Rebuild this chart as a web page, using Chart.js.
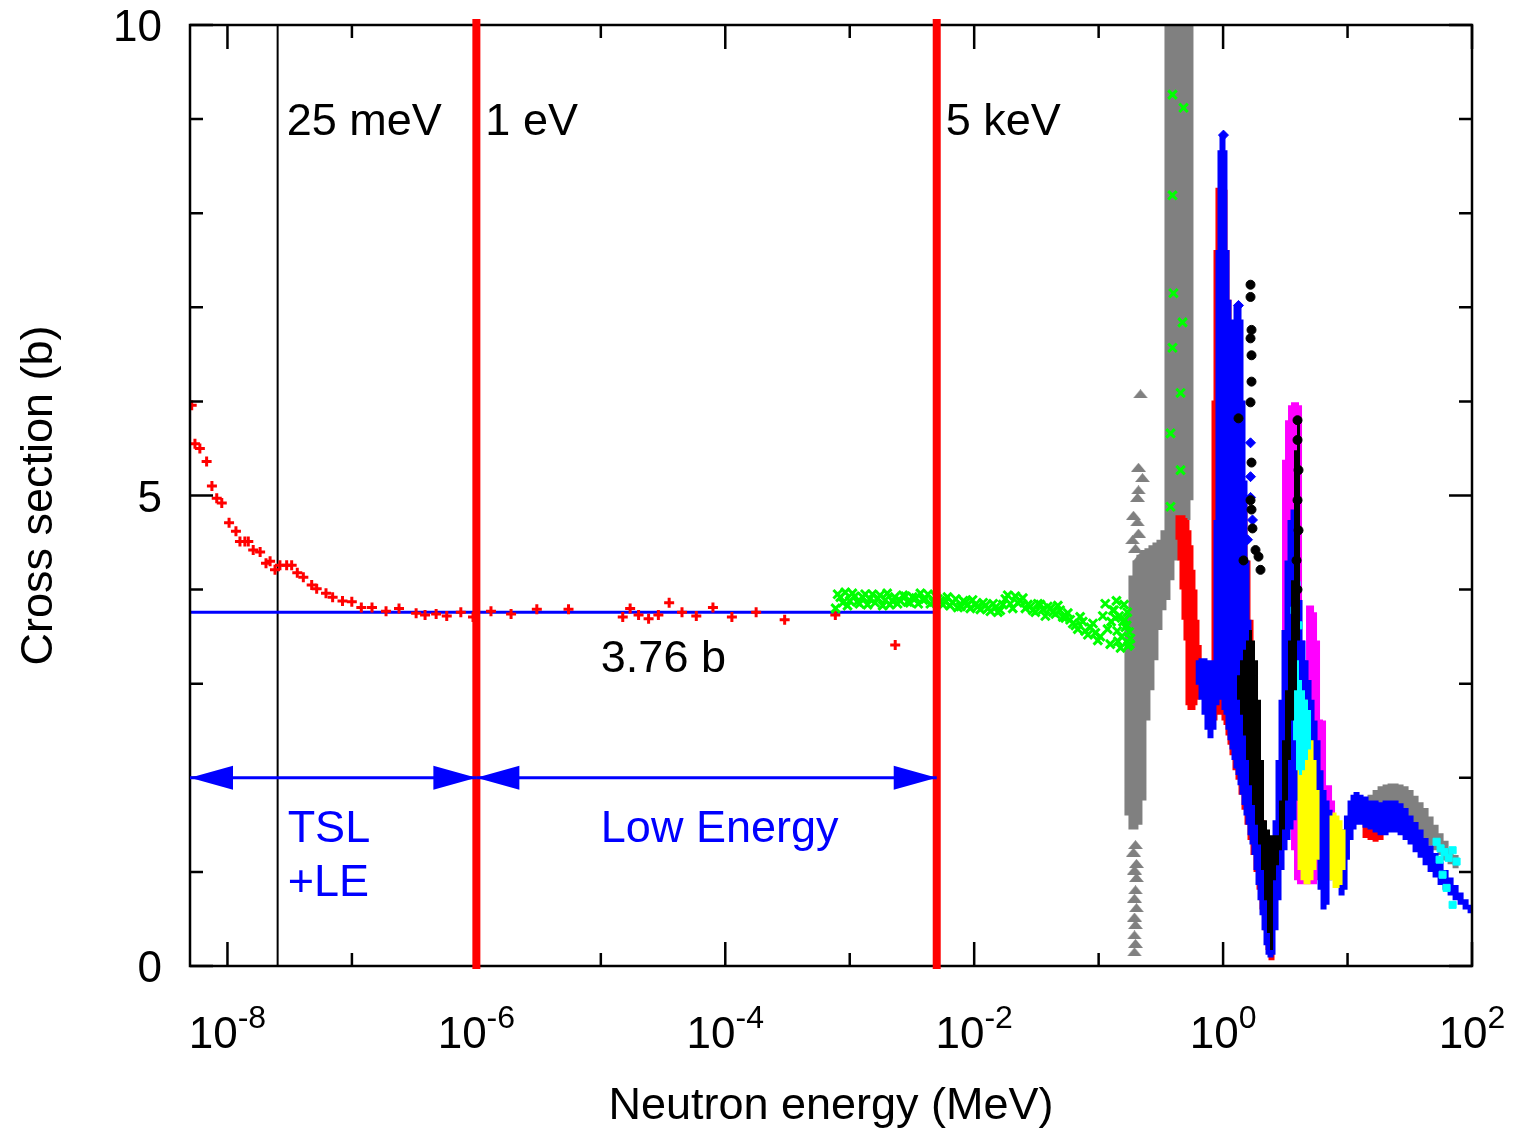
<!DOCTYPE html>
<html>
<head>
<meta charset="utf-8">
<script src="https://cdn.jsdelivr.net/npm/chart.js@4.4.0/dist/chart.umd.min.js"></script>
<style>
  html, body { margin: 0; padding: 0; background: #fff; }
  canvas { display: block; }
</style>
</head>
<body>
<canvas id="xsChart" width="1519" height="1131"></canvas>
<script>
// energies in MeV, cross sections in barn

// axis ticks
const xTickValues = [1e-8, 1e-6, 1e-4, 1e-2, 1, 100];
const xTickExponents = ['-8', '-6', '-4', '-2', '0', '2'];
const xMinorTicks = [1e-7, 1e-5, 1e-3, 1e-1, 10];
const yTickLabels = [0, 5, 10];
const yMinorTicks = [1, 2, 3, 4, 6, 7, 8, 9];

// boundaries drawn as vertical lines
const markerE = [2.53e-8, 1e-6, 5e-3];
const markerText = ['25 meV', '1 eV', '5 keV'];

// thermal / low energy data (red +)
const lowE = [5.16e-9, 5.48e-9, 6.0e-9, 6.8e-9, 7.5e-9, 8.2e-9, 9.0e-9, 1.03e-8, 1.17e-8, 1.26e-8,
  1.38e-8, 1.47e-8, 1.61e-8, 1.83e-8, 2.04e-8, 2.20e-8, 2.41e-8, 2.64e-8, 2.99e-8, 3.28e-8,
  3.64e-8, 4.07e-8, 4.75e-8, 5.21e-8, 6.19e-8, 7.0e-8, 8.4e-8, 9.98e-8, 1.19e-7, 1.45e-7,
  1.88e-7, 2.39e-7, 3.28e-7, 3.87e-7, 4.75e-7, 5.78e-7, 7.5e-7, 9.4e-7, 1.31e-6, 1.90e-6,
  3.06e-6, 5.5e-6, 1.50e-5, 1.72e-5, 2.01e-5, 2.42e-5, 2.90e-5, 3.54e-5, 4.49e-5, 5.85e-5,
  7.96e-5, 1.13e-4, 1.77e-4, 3.0e-4, 7.66e-4, 2.32e-3];
const lowXS = [5.96, 5.55, 5.50, 5.36, 5.10, 4.97, 4.92, 4.71, 4.62, 4.51,
  4.51, 4.51, 4.42, 4.40, 4.28, 4.30, 4.21, 4.26, 4.26, 4.26,
  4.18, 4.13, 4.05, 4.01, 3.96, 3.92, 3.88, 3.87, 3.81, 3.81,
  3.77, 3.80, 3.75, 3.73, 3.74, 3.72, 3.76, 3.71, 3.77, 3.74,
  3.79, 3.79, 3.71, 3.80, 3.73, 3.69, 3.73, 3.86, 3.76, 3.72,
  3.81, 3.71, 3.76, 3.68, 3.73, 3.41];

// constant 3.76 b
const constE = [5e-9, 5e-3];
const constXS = [3.76, 3.76];

// green x data
const greenE = [7.7e-4, 8.4e-4, 9.2e-4, 1.0e-3, 1.1e-3, 1.2e-3, 1.33e-3, 1.45e-3, 1.6e-3, 1.75e-3,
  1.93e-3, 2.1e-3, 2.3e-3, 2.55e-3, 2.8e-3, 3.05e-3, 3.4e-3, 3.7e-3, 4.05e-3, 4.45e-3,
  4.9e-3, 5.35e-3, 5.9e-3, 6.4e-3, 7.1e-3, 7.8e-3, 8.5e-3, 9.3e-3, 1.02e-2, 1.12e-2,
  1.23e-2, 1.35e-2, 1.48e-2, 1.62e-2, 1.78e-2, 1.95e-2, 2.14e-2, 2.35e-2, 2.58e-2, 2.83e-2,
  3.1e-2, 3.4e-2, 3.73e-2, 4.1e-2, 4.5e-2, 4.9e-2, 5.4e-2, 5.9e-2, 6.5e-2, 7.1e-2,
  7.8e-2, 8.6e-2, 9.4e-2, 0.103, 0.113, 0.124, 0.136, 0.150, 0.164, 0.180];
const greenXS = [3.80, 3.92, 3.97, 3.88, 3.93, 3.85, 3.95, 3.90, 3.86, 3.94,
  3.89, 3.84, 3.92, 3.88, 3.93, 3.86, 3.91, 3.96, 3.90, 3.85,
  3.93, 3.88, 3.87, 3.83, 3.90, 3.82, 3.86, 3.80, 3.84, 3.79,
  3.83, 3.77, 3.81, 3.78, 3.90, 3.85, 3.93, 3.88, 3.80, 3.82,
  3.76, 3.84, 3.72, 3.80, 3.74, 3.78, 3.70, 3.68, 3.62, 3.71,
  3.56, 3.60, 3.54, 3.50, 3.85, 3.42, 3.70, 3.38, 3.60, 3.48];
const greenE2 = [8.0e-4, 8.8e-4, 9.6e-4, 1.05e-3, 1.15e-3, 1.27e-3, 1.39e-3, 1.52e-3, 1.68e-3, 1.84e-3,
  2.0e-3, 2.2e-3, 2.42e-3, 2.68e-3, 2.92e-3, 3.2e-3, 3.55e-3, 3.9e-3, 4.25e-3, 4.7e-3,
  5.1e-3, 5.6e-3, 6.1e-3, 6.7e-3, 7.4e-3, 8.2e-3, 8.9e-3, 9.7e-3, 1.07e-2, 1.18e-2,
  1.29e-2, 1.42e-2, 1.55e-2, 1.7e-2, 1.86e-2, 2.04e-2, 2.24e-2, 2.46e-2, 2.7e-2, 2.96e-2,
  3.25e-2, 3.56e-2, 3.9e-2, 4.3e-2, 4.7e-2, 5.15e-2, 5.65e-2, 6.2e-2, 6.8e-2, 7.45e-2,
  8.2e-2, 9.0e-2, 9.85e-2, 0.108, 0.118, 0.130, 0.143, 0.157, 0.172,
  0.126, 0.133, 0.141, 0.146, 0.153, 0.160, 0.168, 0.176, 0.139, 0.162, 0.170, 0.178];
const greenXS2 = [3.95, 3.86, 3.83, 3.96, 3.87, 3.92, 3.84, 3.95, 3.91, 3.83,
  3.96, 3.88, 3.85, 3.94, 3.87, 3.92, 3.85, 3.89, 3.95, 3.87,
  3.90, 3.84, 3.92, 3.86, 3.81, 3.88, 3.84, 3.89, 3.82, 3.86,
  3.80, 3.85, 3.76, 3.84, 3.94, 3.80, 3.86, 3.91, 3.84, 3.78,
  3.85, 3.79, 3.82, 3.76, 3.83, 3.71, 3.75, 3.64, 3.58, 3.66,
  3.52, 3.64, 3.46, 3.72, 3.58, 3.78, 3.45, 3.66, 3.40,
  3.66, 3.78, 3.56, 3.72, 3.50, 3.84, 3.62, 3.55, 3.88, 3.68, 3.76, 3.42];
const greenResE = [0.392, 0.481, 0.392, 0.399, 0.472, 0.392, 0.455, 0.378, 0.455, 0.378];
const greenResXS = [9.26, 9.12, 8.19, 7.15, 6.84, 6.57, 6.09, 5.66, 5.27, 4.88];

// gray triangles: isolated points and dense bands (low / high edge per energy)
const grayPtE = [0.2168, 0.2089, 0.2250, 0.2089, 0.2050, 0.1905, 0.2050, 0.2089, 0.1869, 0.1976, 0.2168,
  0.1976, 0.1905, 0.2013, 0.1940, 0.2013, 0.1976, 0.1940, 0.2013, 0.1940, 0.1976, 0.1940, 0.1976, 0.1940];
const grayPtXS = [6.08, 5.30, 5.19, 5.06, 4.98, 4.79, 4.72, 4.60, 4.53, 4.44, 4.35,
  1.29, 1.21, 1.09, 1.02, 0.94, 0.81, 0.72, 0.62, 0.52, 0.44, 0.33, 0.24, 0.15];
const grayBandE = [0.1704, 0.1835, 0.1976, 0.2128, 0.2291, 0.2467, 0.2657, 0.2861, 0.3081, 0.3318,
  0.3573, 0.3847, 0.4143, 0.4462, 0.4805, 0.5174, 0.5469];
const grayBandLo = [1.60, 1.45, 1.45, 1.50, 1.76, 2.61, 2.93, 3.25, 3.57, 3.78,
  3.89, 4.10, 4.31, 4.47, 4.63, 4.74, 4.95];
const grayBandHi = [3.75, 4.15, 4.31, 4.37, 4.42, 4.44, 4.47, 4.50, 4.53, 4.63,
  10.5, 10.5, 10.5, 10.5, 10.5, 10.5, 10.5];
const grayHumpE = [15.30, 16.80, 18.42, 20.21, 22.17, 24.32, 26.67, 29.26, 32.09, 35.20,
  38.62, 42.36, 46.47, 50.98, 55.92, 61.34, 67.30, 73.82];
const grayHumpLo = [1.60, 1.55, 1.52, 1.49, 1.47, 1.46, 1.45, 1.42, 1.40, 1.38,
  1.35, 1.32, 1.28, 1.23, 1.18, 1.12, 1.08, 1.04];
const grayHumpHi = [1.82, 1.87, 1.91, 1.93, 1.94, 1.94, 1.93, 1.91, 1.87, 1.81,
  1.74, 1.68, 1.59, 1.50, 1.41, 1.33, 1.25, 1.18];

// red stars (resonance region)
const redBandE = [0.4381, 0.4545, 0.4717, 0.4894, 0.5078, 0.5269, 0.5469, 0.5675, 0.5890, 0.6112, 0.6366, 0.6581,
  0.853, 0.885, 0.918, 0.953, 0.989, 1.026, 1.065, 1.105, 1.147, 1.190,
  1.258, 1.330, 1.406, 1.486, 1.571, 1.661, 1.755, 1.856, 1.962, 2.074, 2.192, 2.317, 2.449,
  13.95, 15.30, 16.80, 18.42];
const redBandLo = [4.53, 4.31, 4.00, 3.68, 3.46, 2.77, 2.72, 2.72, 2.77, 2.83, 2.88, 2.93,
  2.61, 2.67, 2.72, 2.72, 2.67, 2.61, 2.56, 2.45, 2.35, 2.24,
  2.08, 1.98, 1.82, 1.66, 1.50, 1.34, 1.18, 1.00, 0.81, 0.60, 0.38, 0.17, 0.06,
  1.36, 1.34, 1.32, 1.34];
const redBandHi = [4.79, 4.79, 4.79, 4.76, 4.74, 4.63, 4.47, 4.21, 4.00, 3.68, 3.41, 3.25,
  6.01, 7.61, 8.27, 8.27, 8.27, 8.25, 7.61, 7.08, 6.44, 6.12,
  6.01, 6.01, 5.80, 4.95, 4.31, 3.68, 3.04, 2.40, 1.87, 1.55, 1.34, 1.13, 0.91,
  1.60, 1.60, 1.57, 1.60];

// blue diamonds
const blueBandE = [0.637, 0.671, 0.709, 0.749, 0.792, 0.837, 0.885, 0.918, 0.953, 0.989,
  1.026, 1.065, 1.105, 1.147, 1.190, 1.235, 1.282, 1.330, 1.380, 1.432,
  1.486, 1.542, 1.600, 1.661, 1.723, 1.788, 1.856, 1.926, 1.998, 2.074,
  2.152, 2.233, 2.317, 2.404, 2.495, 2.638, 2.788, 2.948, 3.116, 3.294,
  3.482, 3.681, 3.890, 4.113, 4.347, 4.596, 4.859, 5.136, 5.430, 5.740,
  6.067, 6.413, 6.780, 7.167, 7.576, 8.009, 8.466, 8.952, 9.460, 9.89,
  10.57, 11.17, 11.81, 12.72, 13.95, 15.30, 16.80, 18.42, 20.21, 22.17,
  24.32, 26.67, 29.26, 32.09, 35.20, 38.62, 42.36, 46.47, 50.98, 55.92,
  61.34, 67.30, 73.82, 80.98, 88.84, 97.43];
const blueBandLo = [2.99, 2.83, 2.67, 2.51, 2.42, 2.51, 2.77, 2.83, 2.83, 2.83,
  2.72, 2.67, 2.51, 2.40, 2.30, 2.19, 2.10, 2.03, 1.92, 1.82,
  1.71, 1.60, 1.50, 1.39, 1.29, 1.18, 1.02, 0.86, 0.70, 0.54,
  0.38, 0.22, 0.12, 0.09, 0.12, 0.38, 0.70, 1.02, 1.23, 1.34,
  1.45, 1.55, 1.76, 1.98, 2.19, 2.19, 2.08, 1.87, 1.55, 1.13,
  0.81, 0.60, 0.65, 0.91, 1.13, 1.13, 0.91, 0.75, 0.81, 1.13,
  1.34, 1.45, 1.50, 1.50, 1.47, 1.45, 1.42, 1.39, 1.39, 1.42,
  1.42, 1.39, 1.34, 1.29, 1.21, 1.15, 1.07, 1.00, 0.94, 0.86,
  0.81, 0.75, 0.70, 0.65, 0.60, 0.56];
const blueBandHi = [3.25, 3.27, 3.27, 3.25, 3.23, 3.25, 4.74, 7.61, 8.67, 8.83,
  8.67, 7.61, 7.08, 6.76, 6.23, 6.87, 7.02, 7.02, 6.87, 6.01,
  5.16, 4.31, 3.68, 3.04, 2.61, 2.30, 1.98, 1.76, 1.55, 1.39,
  1.23, 1.02, 0.81, 0.60, 0.91, 1.55, 2.19, 2.83, 3.57, 4.31,
  4.74, 4.85, 4.74, 3.89, 3.46, 3.25, 3.04, 2.83, 2.61, 2.40,
  2.08, 1.87, 1.76, 1.66, 1.55, 1.55, 1.45, 1.34, 1.45, 1.60,
  1.76, 1.82, 1.85, 1.82, 1.80, 1.76, 1.76, 1.74, 1.76, 1.76,
  1.76, 1.73, 1.68, 1.60, 1.53, 1.45, 1.36, 1.28, 1.20, 1.11,
  1.02, 0.94, 0.86, 0.78, 0.71, 0.65];
const bluePtE = [1.661, 1.661, 1.661, 1.723, 1.571, 1.330, 1.007, 4.60, 5.04, 5.33, 4.35];
const bluePtXS = [5.56, 5.20, 4.98, 4.74, 4.53, 7.02, 8.83, 2.61, 2.19, 1.87, 1.76];

// black circles / squares
const blackBandE = [1.330, 1.406, 1.486, 1.571, 1.661, 1.755, 1.856, 1.962, 2.074, 2.192,
  2.317, 2.449, 2.589, 2.737, 2.893, 3.059, 3.233, 3.418, 3.614, 3.819, 4.037];
const blackBandLo = [2.83, 2.67, 2.45, 2.19, 1.92, 1.71, 1.50, 1.29, 1.02, 0.70,
  0.35, 0.17, 0.91, 1.07, 1.23, 1.45, 1.76, 2.19, 2.61, 2.93, 3.46];
const blackBandHi = [3.09, 3.25, 3.36, 3.46, 3.57, 3.46, 3.25, 2.83, 2.19, 1.55,
  1.45, 1.39, 1.39, 1.39, 1.76, 2.40, 2.93, 3.46, 4.10, 5.48, 5.80];
const blackPtE = [1.661, 1.661, 1.692, 1.661, 1.692, 1.692, 1.661, 1.330, 1.692, 1.661, 1.692, 1.723,
  1.822, 1.926, 1.998, 1.459, 3.963, 3.963, 4.037, 3.963, 4.037, 3.890, 3.963];
const blackPtXS = [7.24, 7.11, 6.76, 6.67, 6.49, 6.21, 5.99, 5.82, 5.35, 4.95, 4.85, 4.65,
  4.42, 4.35, 4.21, 4.31, 5.80, 5.59, 5.27, 4.95, 4.63, 4.31, 4.00];

// magenta squares
const magentaBandE = [3.116, 3.294, 3.482, 3.681, 3.890, 4.113, 4.347, 4.596, 4.859, 5.136,
  5.430, 5.740, 6.067, 6.413, 6.780, 7.167, 7.576];
const magentaBandLo = [3.46, 2.83, 1.76, 1.23, 0.91, 0.87, 0.87, 0.87, 0.87, 0.87,
  0.87, 0.91, 1.13, 1.23, 1.34, 1.39, 1.45];
const magentaBandHi = [5.38, 5.80, 5.96, 5.99, 5.99, 5.96, 3.46, 3.25, 3.83, 3.83,
  3.76, 3.46, 2.62, 2.61, 1.92, 1.92, 1.76];

// cyan
const cyanBandE = [3.547, 3.750, 3.963, 4.189, 4.429, 4.682, 4.950];
const cyanBandLo = [2.83, 2.40, 2.08, 2.03, 2.08, 2.19, 2.30];
const cyanBandHi = [3.43, 3.46, 3.25, 3.04, 2.93, 2.83, 2.72];
const cyanPtE = [3.890, 3.750, 4.037, 51.94, 55.92, 60.22, 64.84, 69.86, 75.18, 58.01, 62.49, 69.86, 54.90];
const cyanPtXS = [4.05, 3.78, 3.62, 1.32, 1.25, 1.21, 1.15, 1.23, 1.11, 0.97, 0.83, 0.65, 1.13];

// yellow
const yellowBandE = [4.113, 4.347, 4.596, 4.859, 5.136, 5.430, 5.740, 7.437, 7.862, 8.310, 8.785, 9.287];
const yellowBandLo = [1.02, 0.91, 0.87, 0.87, 0.91, 1.02, 1.13, 0.91, 0.83, 0.83, 0.86, 1.02];
const yellowBandHi = [2.61, 2.83, 2.83, 2.61, 2.40, 2.19, 1.87, 1.60, 1.63, 1.60, 1.55, 1.45];

// ---- helpers ----
function points(E, XS) {
    return E.map((e, i) => ({ x: e, y: XS[i] }));
}

// each energy gives one vertical stroke from low to high edge
function band(E, lo, hi) {
    const pts = [];
    for (let i = 0; i < E.length; i++) {
        pts.push({ x: E[i], y: lo[i] }, { x: E[i], y: hi[i] }, { x: E[i], y: null });
    }
    return pts;
}

function flatTriangle(color, w, h) {
    const c = document.createElement('canvas');
    c.width = w;
    c.height = h;
    const g = c.getContext('2d');
    g.fillStyle = color;
    g.beginPath();
    g.moveTo(0, h);
    g.lineTo(w / 2, 0);
    g.lineTo(w, h);
    g.closePath();
    g.fill();
    return c;
}

function bandSet(data, color, width, order) {
    return {
        data: data, showLine: true, spanGaps: false, borderColor: color, borderWidth: width,
        borderCapStyle: 'butt', pointRadius: 0, pointHitRadius: 0, order: order, clip: 0
    };
}

function markSet(data, style, color, radius, order, lineW) {
    return {
        data: data, pointStyle: style, pointRadius: radius, pointBorderWidth: lineW,
        pointBorderColor: color, pointBackgroundColor: color, order: order, clip: 0
    };
}

const FONT = '"Liberation Sans", Arial, sans-serif';
const BLUE = '#0000ff';

const frame = {
    id: 'frame',
    beforeDatasetsDraw(chart) {
        const { ctx, chartArea: a, scales: { x } } = chart;
        ctx.save();
        const xt = x.getPixelForValue(markerE[0]);
        ctx.strokeStyle = '#000';
        ctx.lineWidth = 2;
        ctx.beginPath();
        ctx.moveTo(xt, a.top);
        ctx.lineTo(xt, a.bottom);
        ctx.stroke();
        ctx.restore();
    },
    afterDatasetsDraw(chart) {
        const { ctx, chartArea: a, scales: { x, y } } = chart;
        ctx.save();

        // frame and inward ticks
        ctx.strokeStyle = '#000';
        ctx.lineWidth = 2.5;
        ctx.strokeRect(a.left, a.top, a.right - a.left, a.bottom - a.top);
        ctx.beginPath();
        xTickValues.forEach(v => {
            const px = x.getPixelForValue(v);
            ctx.moveTo(px, a.bottom); ctx.lineTo(px, a.bottom - 24);
            ctx.moveTo(px, a.top); ctx.lineTo(px, a.top + 24);
        });
        xMinorTicks.forEach(v => {
            const px = x.getPixelForValue(v);
            ctx.moveTo(px, a.bottom); ctx.lineTo(px, a.bottom - 13);
            ctx.moveTo(px, a.top); ctx.lineTo(px, a.top + 13);
        });
        yTickLabels.forEach(v => {
            const py = y.getPixelForValue(v);
            ctx.moveTo(a.left, py); ctx.lineTo(a.left + 23, py);
            ctx.moveTo(a.right, py); ctx.lineTo(a.right - 23, py);
        });
        yMinorTicks.forEach(v => {
            const py = y.getPixelForValue(v);
            ctx.moveTo(a.left, py); ctx.lineTo(a.left + 13, py);
            ctx.moveTo(a.right, py); ctx.lineTo(a.right - 13, py);
        });
        ctx.stroke();

        // red boundaries at 1 eV and 5 keV
        ctx.strokeStyle = '#ff0000';
        ctx.lineWidth = 8;
        ctx.beginPath();
        markerE.slice(1).forEach(e => {
            const px = x.getPixelForValue(e);
            ctx.moveTo(px, a.top - 6);
            ctx.lineTo(px, a.bottom + 3);
        });
        ctx.stroke();

        // tick labels
        ctx.fillStyle = '#000';
        ctx.textBaseline = 'alphabetic';
        ctx.textAlign = 'right';
        ctx.font = '44px ' + FONT;
        yTickLabels.forEach(v => {
            ctx.fillText(String(v), a.left - 28, y.getPixelForValue(v) + 16);
        });
        ctx.textAlign = 'left';
        xTickValues.forEach((v, i) => {
            const px = x.getPixelForValue(v);
            ctx.font = '44px ' + FONT;
            const wb = ctx.measureText('10').width;
            ctx.font = '32px ' + FONT;
            const ws = ctx.measureText(xTickExponents[i]).width;
            const left = px - (wb + ws) / 2;
            ctx.font = '44px ' + FONT;
            ctx.fillText('10', left, a.bottom + 82);
            ctx.font = '32px ' + FONT;
            ctx.fillText(xTickExponents[i], left + wb, a.bottom + 62);
        });

        // axis titles
        ctx.font = '45px ' + FONT;
        ctx.textAlign = 'center';
        ctx.fillText('Neutron energy (MeV)', (a.left + a.right) / 2, a.bottom + 153);
        ctx.save();
        ctx.translate(52, (a.top + a.bottom) / 2);
        ctx.rotate(-Math.PI / 2);
        ctx.fillText('Cross section (b)', 0, 0);
        ctx.restore();

        // boundary labels
        ctx.textAlign = 'left';
        const labelY = y.getPixelForValue(8.83);
        markerE.forEach((e, i) => {
            ctx.fillText(markerText[i], x.getPixelForValue(e) + 9, labelY);
        });
        ctx.fillText('3.76 b', x.getPixelForValue(1e-5), y.getPixelForValue(3.12));

        // range arrows
        const ay = y.getPixelForValue(2.0);
        const arrow = (e0, e1) => {
            const x0 = x.getPixelForValue(e0), x1 = x.getPixelForValue(e1);
            ctx.strokeStyle = BLUE;
            ctx.fillStyle = BLUE;
            ctx.lineWidth = 3;
            ctx.beginPath();
            ctx.moveTo(x0, ay); ctx.lineTo(x1, ay);
            ctx.stroke();
            ctx.beginPath();
            ctx.moveTo(x0, ay); ctx.lineTo(x0 + 43, ay - 12); ctx.lineTo(x0 + 43, ay + 12); ctx.closePath();
            ctx.moveTo(x1, ay); ctx.lineTo(x1 - 43, ay - 12); ctx.lineTo(x1 - 43, ay + 12); ctx.closePath();
            ctx.fill();
        };
        arrow(5e-9, markerE[1]);
        arrow(markerE[1], markerE[2]);

        ctx.fillStyle = BLUE;
        const tx = x.getPixelForValue(markerE[0]) + 10;
        ctx.fillText('TSL', tx, y.getPixelForValue(1.32));
        ctx.fillText('+LE', tx, y.getPixelForValue(0.74));
        ctx.fillText('Low Energy', x.getPixelForValue(1e-5), y.getPixelForValue(1.32));

        ctx.restore();
    }
};

const grayTri = flatTriangle('#808080', 15, 9);

new Chart(document.getElementById('xsChart'), {
    type: 'scatter',
    data: {
        datasets: [
            bandSet(band(blackBandE, blackBandLo, blackBandHi), '#000000', 3, 1),
            markSet(points(blackPtE, blackPtXS), 'circle', '#000000', 4.5, 1, 1),
            bandSet(band(cyanBandE, cyanBandLo, cyanBandHi), '#00ffff', 3, 2),
            markSet(points(cyanPtE, cyanPtXS), 'rect', '#00ffff', 5, 2, 1),
            bandSet(band(yellowBandE, yellowBandLo, yellowBandHi), '#ffff00', 4, 3),
            markSet(points(bluePtE, bluePtXS), 'rectRot', BLUE, 5, 3, 1),
            bandSet(band(blueBandE, blueBandLo, blueBandHi), BLUE, 6, 4),
            bandSet(band(magentaBandE, magentaBandLo, magentaBandHi), '#ff00ff', 5, 5),
            bandSet(band(redBandE, redBandLo, redBandHi), '#ff0000', 6, 6),
            markSet(points(greenE, greenXS).concat(points(greenE2, greenXS2), points(greenResE, greenResXS)),
                'crossRot', '#00ff00', 6, 7, 3),
            bandSet(band(grayBandE, grayBandLo, grayBandHi).concat(band(grayHumpE, grayHumpLo, grayHumpHi)),
                '#808080', 6, 8),
            markSet(points(grayPtE, grayPtXS), grayTri, '#808080', 5, 8, 1),
            markSet(points(lowE, lowXS), 'cross', '#ff0000', 5, 9, 3),
            {
                data: points(constE, constXS), showLine: true, borderColor: BLUE, borderWidth: 3,
                pointRadius: 0, order: 10, clip: 0
            }
        ]
    },
    options: {
        responsive: false,
        animation: false,
        devicePixelRatio: 1,
        events: [],
        layout: { padding: { left: 190, right: 47, top: 25, bottom: 165 } },
        scales: {
            x: { type: 'logarithmic', min: 5e-9, max: 100, display: false },
            y: { type: 'linear', min: 0, max: 10, display: false }
        },
        plugins: { legend: { display: false }, tooltip: { enabled: false } }
    },
    plugins: [frame]
});
</script>
</body>
</html>
